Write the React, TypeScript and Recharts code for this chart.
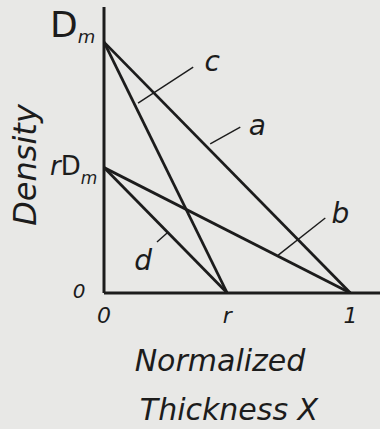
import { LineChart, Line, XAxis, YAxis, ReferenceLine, ReferenceDot, Label } from "recharts";

// normalized density at the surface and at the inner point
const DM = 1;
const R = 0.5;

const lineA = [{ x: 0, y: DM }, { x: 1, y: 0 }];
const lineB = [{ x: 0, y: R * DM }, { x: 1, y: 0 }];
const lineC = [{ x: 0, y: DM }, { x: R, y: 0 }];
const lineD = [{ x: 0, y: R * DM }, { x: R, y: 0 }];

const xTicks = [0, R, 1];
const xTickLabels = ["0", "r", "1"];
const yTicks = [0, R * DM, DM];

// leader segments and their letters, in data units
const leaders = [
  { name: "c", from: [0.138, 0.757], to: [0.362, 0.9], at: [0.439, 0.924] },
  { name: "a", from: [0.431, 0.594], to: [0.553, 0.661], at: [0.622, 0.669] },
  { name: "b", from: [0.707, 0.151], to: [0.898, 0.299], at: [0.959, 0.319] },
  { name: "d", from: [0.215, 0.203], to: [0.256, 0.239], at: [0.159, 0.131] },
];

const FONT = "'DejaVu Sans', sans-serif";
const INK = "#1c1c1c";

const XTick = ({ x, y, payload }: any) => {
  const i = xTicks.indexOf(payload.value);
  return (
    <text x={x} y={y + 22} textAnchor="middle" fontFamily={FONT} fontStyle="italic" fontSize={22} fill={INK}>
      {xTickLabels[i]}
    </text>
  );
};

const YTick = ({ x, y, payload }: any) => {
  const v = payload.value;
  if (v === 0) {
    return (
      <text x={x - 17} y={y + 5} textAnchor="middle" fontFamily={FONT} fontStyle="italic" fontSize={20} fill={INK}>
        0
      </text>
    );
  }
  if (v === DM) {
    return (
      <text x={x - 46} y={y - 5} fontFamily={FONT} fontSize={36} fill={INK}>
        D<tspan fontSize={18} fontStyle="italic" dy={6}>m</tspan>
      </text>
    );
  }
  return (
    <text x={x - 46} y={y + 7} fontFamily={FONT} fontSize={26} fill={INK}>
      <tspan fontStyle="italic">r</tspan>D<tspan fontSize={17} fontStyle="italic" dy={9}>m</tspan>
    </text>
  );
};

const XTitle = ({ viewBox }: any) => {
  const y0 = viewBox.y;
  return (
    <g fontFamily={FONT} fontStyle="italic" fill={INK} textAnchor="middle">
      <text x={220} y={y0 + 78} fontSize={30}>Normalized</text>
      <text x={229} y={y0 + 127} fontSize={30}>Thickness X</text>
    </g>
  );
};

const YTitle = () => (
  <text
    x={36}
    y={165}
    transform="rotate(-90 36 165)"
    textAnchor="middle"
    fontFamily={FONT}
    fontStyle="italic"
    fontSize={32}
    fill={INK}
  >
    Density
  </text>
);

export default function App() {
  const series = [lineA, lineB, lineC, lineD];
  return (
    <div style={{ position: "absolute", left: 0, top: 0, width: 380, height: 429, background: "#e8e8e6" }}>
      <LineChart width={380} height={429} margin={{ top: 7, right: 0, bottom: 106, left: 4 }}>
        <XAxis
          dataKey="x"
          type="number"
          domain={[0, 1.12]}
          ticks={xTicks}
          tick={<XTick />}
          tickLine={false}
          height={30}
          axisLine={{ stroke: INK, strokeWidth: 3 }}
          allowDataOverflow
        >
          <Label content={<XTitle />} />
        </XAxis>
        <YAxis
          type="number"
          domain={[0, 1.14]}
          ticks={yTicks}
          tick={<YTick />}
          tickLine={false}
          width={100}
          axisLine={{ stroke: INK, strokeWidth: 3 }}
          allowDataOverflow
        >
          <Label content={<YTitle />} />
        </YAxis>
        {series.map((d, i) => (
          <Line
            key={i}
            data={d}
            dataKey="y"
            type="linear"
            stroke={INK}
            strokeWidth={2.8}
            dot={false}
            activeDot={false}
            isAnimationActive={false}
          />
        ))}
        {leaders.map((l) => (
          <ReferenceLine
            key={l.name}
            segment={[
              { x: l.from[0], y: l.from[1] },
              { x: l.to[0], y: l.to[1] },
            ]}
            stroke={INK}
            strokeWidth={1.4}
          />
        ))}
        {leaders.map((l) => (
          <ReferenceDot key={"t" + l.name} x={l.at[0]} y={l.at[1]} r={0} stroke="none" fill="none">
            <Label
              value={l.name}
              position="center"
              style={{ fontFamily: FONT, fontStyle: "italic", fontSize: 28, fill: INK }}
            />
          </ReferenceDot>
        ))}
      </LineChart>
    </div>
  );
}
